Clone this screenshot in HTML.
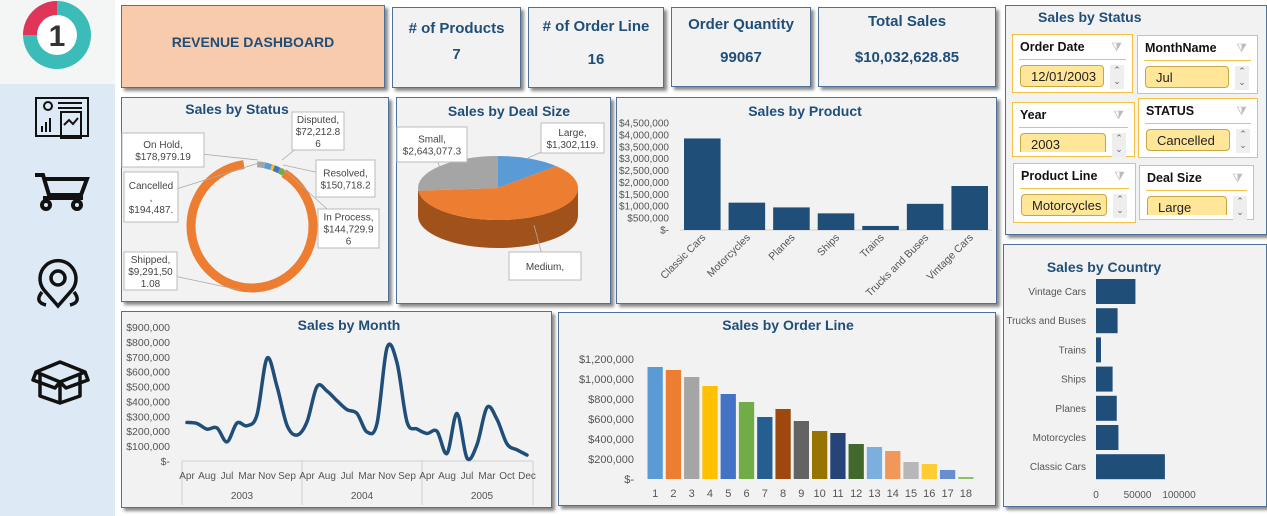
<!DOCTYPE html>
<html><head><meta charset="utf-8">
<style>
*{box-sizing:border-box;margin:0;padding:0}
body{width:1267px;height:516px;background:#fff;position:relative;overflow:hidden;font-family:"Liberation Sans",Arial,sans-serif}
.p{position:absolute;background:#f2f2f2;border:1.5px solid #4d7198;box-shadow:3px 3px 3px #8a8a8a}
.kt{position:absolute;left:0;right:0;text-align:center;color:#1f4e79;font-weight:bold;font-size:15px}
.sl{position:absolute;background:#fff;border:1px solid #f4c242}
.sl .h{position:absolute;left:7px;top:5px;font-size:12.5px;font-weight:bold;color:#111}
.sl .ln{position:absolute;left:6px;right:6px;top:24px;border-top:1px solid #f4c242}
.sl .b{position:absolute;left:7px;top:30px;height:22px;background:#ffe699;border:1px solid #c9a640;border-radius:4px;font-size:13px;padding:3px 0 0 10px;color:#222;overflow:hidden;white-space:nowrap}
.sl .s{position:absolute;top:30px;width:14px;height:24px;background:#eee;color:#666;font-size:9px;line-height:11px;text-align:center}
.sl .f{position:absolute;top:5px;right:10px;color:#bbb;font-size:12px}
</style></head><body>
<div style="position:absolute;left:0;top:0;width:115px;height:516px;background:#dee9f6"></div>
<div style="position:absolute;left:0;top:0;width:115px;height:84px;background:#f4f6f6"></div>
<svg style="position:absolute;left:0;top:0" width="120" height="516">
 <g>
  <circle cx="57" cy="35" r="34" fill="#3bbcb8"/><path d="M57 1 A34 34 0 0 0 23 35 L37 35 A20 20 0 0 1 57 15Z" fill="#e03558"/>
  <circle cx="57" cy="35" r="20" fill="#fff"/>
  <text x="57" y="46" text-anchor="middle" font-size="30" font-weight="bold" fill="#333">1</text>
 </g>
 <g fill="none" stroke="#111" stroke-width="2">
  <rect x="36" y="98" width="52" height="38"/><circle cx="48" cy="106" r="4"/><line x1="58" y1="103" x2="82" y2="103"/><line x1="58" y1="108" x2="82" y2="108"/>
  <rect x="61" y="112" width="20" height="26"/><polyline points="64,125 69,120 73,124 78,118"/><path d="M42 126v6M46 122v10M50 118v14"/>
 </g>
 <g fill="none" stroke="#111" stroke-width="4">
  <path d="M35 175h8l6 20h32l6-16H45"/><path d="M43 198h40"/><circle cx="46" cy="205" r="4"/><circle cx="77" cy="205" r="4"/>
 </g>
 <g fill="none" stroke="#111" stroke-width="3.5">
  <path d="M58 306 L44 290 A18 18 0 1 1 72 290Z"/><circle cx="58" cy="278" r="7"/><path d="M42 292 Q34 302 46 305M74 292 Q82 302 70 305"/>
 </g>
 <g fill="none" stroke="#111" stroke-width="3.5" stroke-linejoin="round">
  <path d="M36 372 L60 362 L85 372 L60 382Z"/><path d="M40 374v22l20 7 20-7v-22"/><path d="M60 382v21"/><path d="M36 372l-3 8 22 8 5-6M85 372l3 8-22 8-6-6"/>
 </g>
</svg>

<div class="p" style="left:121px;top:5px;width:264px;height:83px;background:#f8cbad"><div class="kt" style="top:28px;font-size:14px">REVENUE DASHBOARD</div></div>
<div class="p" style="left:392px;top:7px;width:129px;height:81px"><div class="kt" style="top:12px">&#35; of Products</div><div class="kt" style="top:38px">7</div></div>
<div class="p" style="left:528px;top:7px;width:136px;height:81px"><div class="kt" style="top:10px">&#35; of Order Line</div><div class="kt" style="top:43px">16</div></div>
<div class="p" style="left:671px;top:7px;width:140px;height:80px"><div class="kt" style="top:8px">Order Quantity</div><div class="kt" style="top:41px">99067</div></div>
<div class="p" style="left:818px;top:7px;width:178px;height:80px"><div class="kt" style="top:5px">Total Sales</div><div class="kt" style="top:41px">$10,032,628.85</div></div>

<div class="p" style="left:1005px;top:5px;width:262px;height:230px">
 <div style="position:absolute;left:32px;top:3px;font-weight:bold;color:#1f4e79;font-size:14px">Sales by Status</div>
</div>
<div class="sl" style="left:1012px;top:34px;width:121px;height:59px"><div class="h">Order Date</div><div class="f">⧩</div><div class="ln"></div><div class="b" style="width:84px">12/01/2003</div><div class="s" style="left:97px">⌃<br>⌄</div></div>
<div class="sl" style="left:1137px;top:35px;width:121px;height:59px"><div class="h">MonthName</div><div class="f">⧩</div><div class="ln"></div><div class="b" style="width:84px">Jul</div><div class="s" style="left:97px">⌃<br>⌄</div></div>
<div class="sl" style="left:1012px;top:102px;width:123px;height:55px"><div class="h">Year</div><div class="f">⧩</div><div class="ln"></div><div class="b" style="width:86px;height:19px;border-bottom:none;border-radius:4px 4px 0 0">2003</div><div class="s" style="left:99px">⌃<br>⌄</div></div>
<div class="sl" style="left:1138px;top:98px;width:120px;height:60px"><div class="h">STATUS</div><div class="f">⧩</div><div class="ln"></div><div class="b" style="width:84px">Cancelled</div><div class="s" style="left:97px">⌃<br>⌄</div></div>
<div class="sl" style="left:1013px;top:163px;width:123px;height:60px"><div class="h">Product Line</div><div class="f">⧩</div><div class="ln"></div><div class="b" style="width:86px">Motorcycles</div><div class="s" style="left:99px">⌃<br>⌄</div></div>
<div class="sl" style="left:1139px;top:165px;width:115px;height:55px"><div class="h">Deal Size</div><div class="f">⧩</div><div class="ln"></div><div class="b" style="width:80px;height:19px;border-bottom:none;border-radius:4px 4px 0 0">Large</div><div class="s" style="left:93px">⌃<br>⌄</div></div>

<div class="p" style="left:121px;top:97px;width:268px;height:205px"></div>
<div class="p" style="left:396px;top:97px;width:215px;height:207px"></div>
<div class="p" style="left:616px;top:97px;width:381px;height:207px"></div>
<div class="p" style="left:121px;top:311px;width:431px;height:197px"></div>
<div class="p" style="left:558px;top:312px;width:438px;height:194px"></div>
<div class="p" style="left:1003px;top:244px;width:264px;height:263px"></div>

<svg id="c" style="position:absolute;left:0;top:0" width="1267" height="516" font-family="Liberation Sans, Arial, sans-serif"></svg>
<script>
// Sales by Product
const prodCats=["Classic Cars","Motorcycles","Planes","Ships","Trains","Trucks and Buses","Vintage Cars"];
const prodVals=[3850000,1150000,950000,700000,170000,1100000,1850000];
const prodTicks=[0,500000,1000000,1500000,2000000,2500000,3000000,3500000,4000000,4500000];
// Sales by Order Line
const lineCats=[1,2,3,4,5,6,7,8,9,10,11,12,13,14,15,16,17,18];
const lineVals=[1120000,1090000,1020000,930000,850000,770000,620000,700000,580000,480000,460000,350000,320000,280000,170000,150000,90000,20000];
const lineTicks=[0,200000,400000,600000,800000,1000000,1200000];
const lineColors=["#5b9bd5","#ed7d31","#a5a5a5","#ffc000","#4472c4","#70ad47","#255e91","#9e480e","#636363","#997300","#264478","#43682b","#7cafdd","#f1975a","#b7b7b7","#ffcd33","#698ed0","#8cc168"];
// Sales by Month
const monthVals=[259000,252000,214000,222000,129000,255000,237000,310000,690000,500000,240000,174000,263000,500000,470000,405000,345000,319000,195000,252000,760000,660000,263000,215000,185000,200000,51000,319000,20000,110000,360000,280000,115000,75000,40000];
const monthLabels=["Apr","Aug","Jul","Mar","Nov","Sep","Apr","Aug","Jul","Mar","Nov","Sep","Apr","Aug","Jul","Mar","Oct","Dec"];
const years=["2003","2004","2005"];
const monthTicks=[0,100000,200000,300000,400000,500000,600000,700000,800000,900000];
// Sales by Country
const ctryCats=["Vintage Cars","Trucks and Buses","Trains","Ships","Planes","Motorcycles","Classic Cars"];
const ctryVals=[47500,26000,6000,20000,25000,27000,83000];
const ctryTicks=[0,50000,100000];
// Deal size
const dealCats=["Large","Medium","Small"];
const dealVals=[1302119,6087432,2643077];
const dealColors=["#5b9bd5","#ed7d31","#a5a5a5"];
// Status
const statusCats=["Shipped","Cancelled","On Hold","Disputed","Resolved","In Process"];
const statusVals=[9291501,194487,178979,72213,150718,144730];

const S=document.getElementById('c');const NS="http://www.w3.org/2000/svg";
function el(t,a,txt){const e=document.createElementNS(NS,t);for(const k in a)e.setAttribute(k,a[k]);if(txt!==undefined)e.textContent=txt;S.appendChild(e);return e;}
function fmt(v){return v===0?"$-":"$"+v.toLocaleString('en-US');}
function title(x,y,t,n){const e=el('text',{x:x,y:y,'text-anchor':'middle','font-size':14,'font-weight':'bold',fill:'#1f4e79'},t);}

// product
title(805,116,"Sales by Product","product-chart-title");
{const y0=230,y1=123,x0=680,x1=992,bw=(x1-x0)/prodCats.length;const ys=v=>y0-(v/4500000)*(y0-y1);
prodTicks.forEach(t=>{const e=el('text',{x:669,y:ys(t)+3.5,'text-anchor':'end','font-size':10,fill:'#555'},fmt(t));});
el('line',{x1:x0,x2:x1,y1:y0,y2:y0,stroke:'#d0d0d0'});
prodVals.forEach((v,i)=>{const r=el('rect',{x:x0+i*bw+4,y:ys(v),width:bw-8,height:y0-ys(v),fill:'#1f4e79'});
const cx=x0+i*bw+bw/2;const t=el('text',{x:cx+4,y:238,'text-anchor':'end','font-size':10.5,fill:'#555',transform:`rotate(-45 ${cx+4} 238)`},prodCats[i]);});}

// order line
title(788,330,"Sales by Order Line","order-line-chart-title");
{const y0=479,y1=359,x0=646,x1=975,bw=(x1-x0)/lineCats.length;const ys=v=>y0-(v/1200000)*(y0-y1);
lineTicks.forEach(t=>{const e=el('text',{x:634,y:ys(t)+4,'text-anchor':'end','font-size':11,fill:'#555'},fmt(t));});
lineVals.forEach((v,i)=>{const r=el('rect',{x:x0+i*bw+1.5,y:ys(v),width:bw-3,height:y0-ys(v),fill:lineColors[i]});
const t=el('text',{x:x0+i*bw+bw/2,y:497,'text-anchor':'middle','font-size':11,fill:'#555'},lineCats[i]);});}

// month
title(349,330,"Sales by Month","month-chart-title");
{const y0=461,y1=327,x0=187,x1=527;const ys=v=>y0-(v/900000)*(y0-y1);
monthTicks.forEach(t=>{const e=el('text',{x:170,y:ys(t)+4,'text-anchor':'end','font-size':10.5,fill:'#555'},fmt(t));});
el('line',{x1:182,x2:533,y1:y0,y2:y0,stroke:'#d0d0d0'});
[182,302,422,533].forEach(x=>el('line',{x1:x,x2:x,y1:y0,y2:505,stroke:'#d0d0d0'}));
monthLabels.forEach((m,i)=>{const t=el('text',{x:x0+i*20,y:479,'text-anchor':'middle','font-size':10,fill:'#555'},m);});
years.forEach((y,i)=>{const t=el('text',{x:242+i*120,y:499,'text-anchor':'middle','font-size':10,fill:'#555'},y);});
const n=monthVals.length;const P=monthVals.map((v,i)=>[x0+i*(x1-x0)/(n-1),ys(v)]);
let d=`M${P[0][0]},${P[0][1]}`;for(let i=0;i<n-1;i++){const p0=P[Math.max(0,i-1)],p1=P[i],p2=P[i+1],p3=P[Math.min(n-1,i+2)];
d+=` C${p1[0]+(p2[0]-p0[0])/6},${p1[1]+(p2[1]-p0[1])/6} ${p2[0]-(p3[0]-p1[0])/6},${p2[1]-(p3[1]-p1[1])/6} ${p2[0]},${p2[1]}`;}
const l=el('path',{d:d,fill:'none',stroke:'#1f4e79','stroke-width':3.5,'stroke-linecap':'round'});}

// country
{const e=el('text',{x:1104,y:272,'text-anchor':'middle','font-size':14,'font-weight':'bold',fill:'#1f4e79'},"Sales by Country");}
{const x0=1096,k=83/100000,top=279,step=29.2;
ctryVals.forEach((v,i)=>{const r=el('rect',{x:x0,y:top+i*step,width:v*k,height:25,fill:'#1f4e79'});
const t=el('text',{x:1086,y:top+i*step+16,'text-anchor':'end','font-size':10,fill:'#555'},ctryCats[i]);});
ctryTicks.forEach(t=>{const e=el('text',{x:x0+t*k,y:498,'text-anchor':'middle','font-size':10,fill:'#555'},t);});}

// deal size 3D pie
title(509,116,"Sales by Deal Size","deal-size-chart-title");
{const cx=498,cy=188,rx=80,ry=32,dp=28;const tot=dealVals.reduce((a,b)=>a+b,0);
const pt=(a,dy)=>[cx+rx*Math.sin(a),cy-ry*Math.cos(a)+(dy||0)];
let a=0;const segs=dealVals.map((v,i)=>{const s=a;a+=v/tot*2*Math.PI;return[s,a,i];});
const side=el('path',{d:`M${cx-rx},${cy} A${rx},${ry} 0 0 0 ${cx+rx},${cy} L${cx+rx},${cy+dp} A${rx},${ry} 0 0 1 ${cx-rx},${cy+dp}Z`,fill:'#a0521a'});
segs.forEach(([s,e,i])=>{const p1=pt(s),p2=pt(e);const large=(e-s)>Math.PI?1:0;
const w=el('path',{d:`M${cx},${cy} L${p1[0]},${p1[1]} A${rx},${ry} 0 ${large} 1 ${p2[0]},${p2[1]}Z`,fill:dealColors[i]});});}

// status donut
title(237,114,"Sales by Status","status-chart-title");
{const cx=252,cy=226,rx=61,ry=62;const tot=statusVals.reduce((a,b)=>a+b,0);const cols=["#ed7d31","#a5a5a5","#5b9bd5","#ffc000","#4472c4","#70ad47"];
let a=0.55;statusVals.forEach((v,i)=>{const s=a;a+=v/tot*2*Math.PI;const e=i===0?a-0.22:a;
const p1=[cx+rx*Math.sin(s),cy-ry*Math.cos(s)],p2=[cx+rx*Math.sin(e),cy-ry*Math.cos(e)];const large=(e-s)>Math.PI?1:0;
const w=el('path',{d:`M${p1[0]},${p1[1]} A${rx},${ry} 0 ${large} 1 ${p2[0]},${p2[1]}`,fill:'none',stroke:cols[i],'stroke-width':i===0?9:6});});}

// callout labels
const labels=[
[292,112,52,38,["Disputed,","$72,212.8","6"],[282,160]],
[122,133,82,34,["On Hold,","$178,979.19"],[258,160]],
[124,172,54,50,["Cancelled",",","$194,487."],[262,162]],
[316,160,59,37,["Resolved,","$150,718.2"],[283,165]],
[318,209,61,39,["In Process,","$144,729.9","6"],[282,168]],
[124,252,53,38,["Shipped,","$9,291,50","1.08"],[240,290]],
[397,127,70,35,["Small,","$2,643,077.3"],[440,168]],
[541,123,63,30,["Large,","$1,302,119."],[528,158]],
[509,252,72,28,["Medium,"],[534,225]]];
labels.forEach(([x,y,w,h,lines,t])=>{
 el('line',{x1:x+w/2,y1:y+h/2,x2:t[0],y2:t[1],stroke:'#aaa','stroke-width':0.8});
 const r=el('rect',{x:x,y:y,width:w,height:h,fill:'#fff',stroke:'#bbb'});
 const lh=12;const sy=y+h/2-(lines.length-1)*lh/2+4;
 lines.forEach((s,j)=>{const e=el('text',{x:x+w/2,y:sy+j*lh,'text-anchor':'middle','font-size':10,fill:'#444'},s);});
});
</script>
</body></html>
